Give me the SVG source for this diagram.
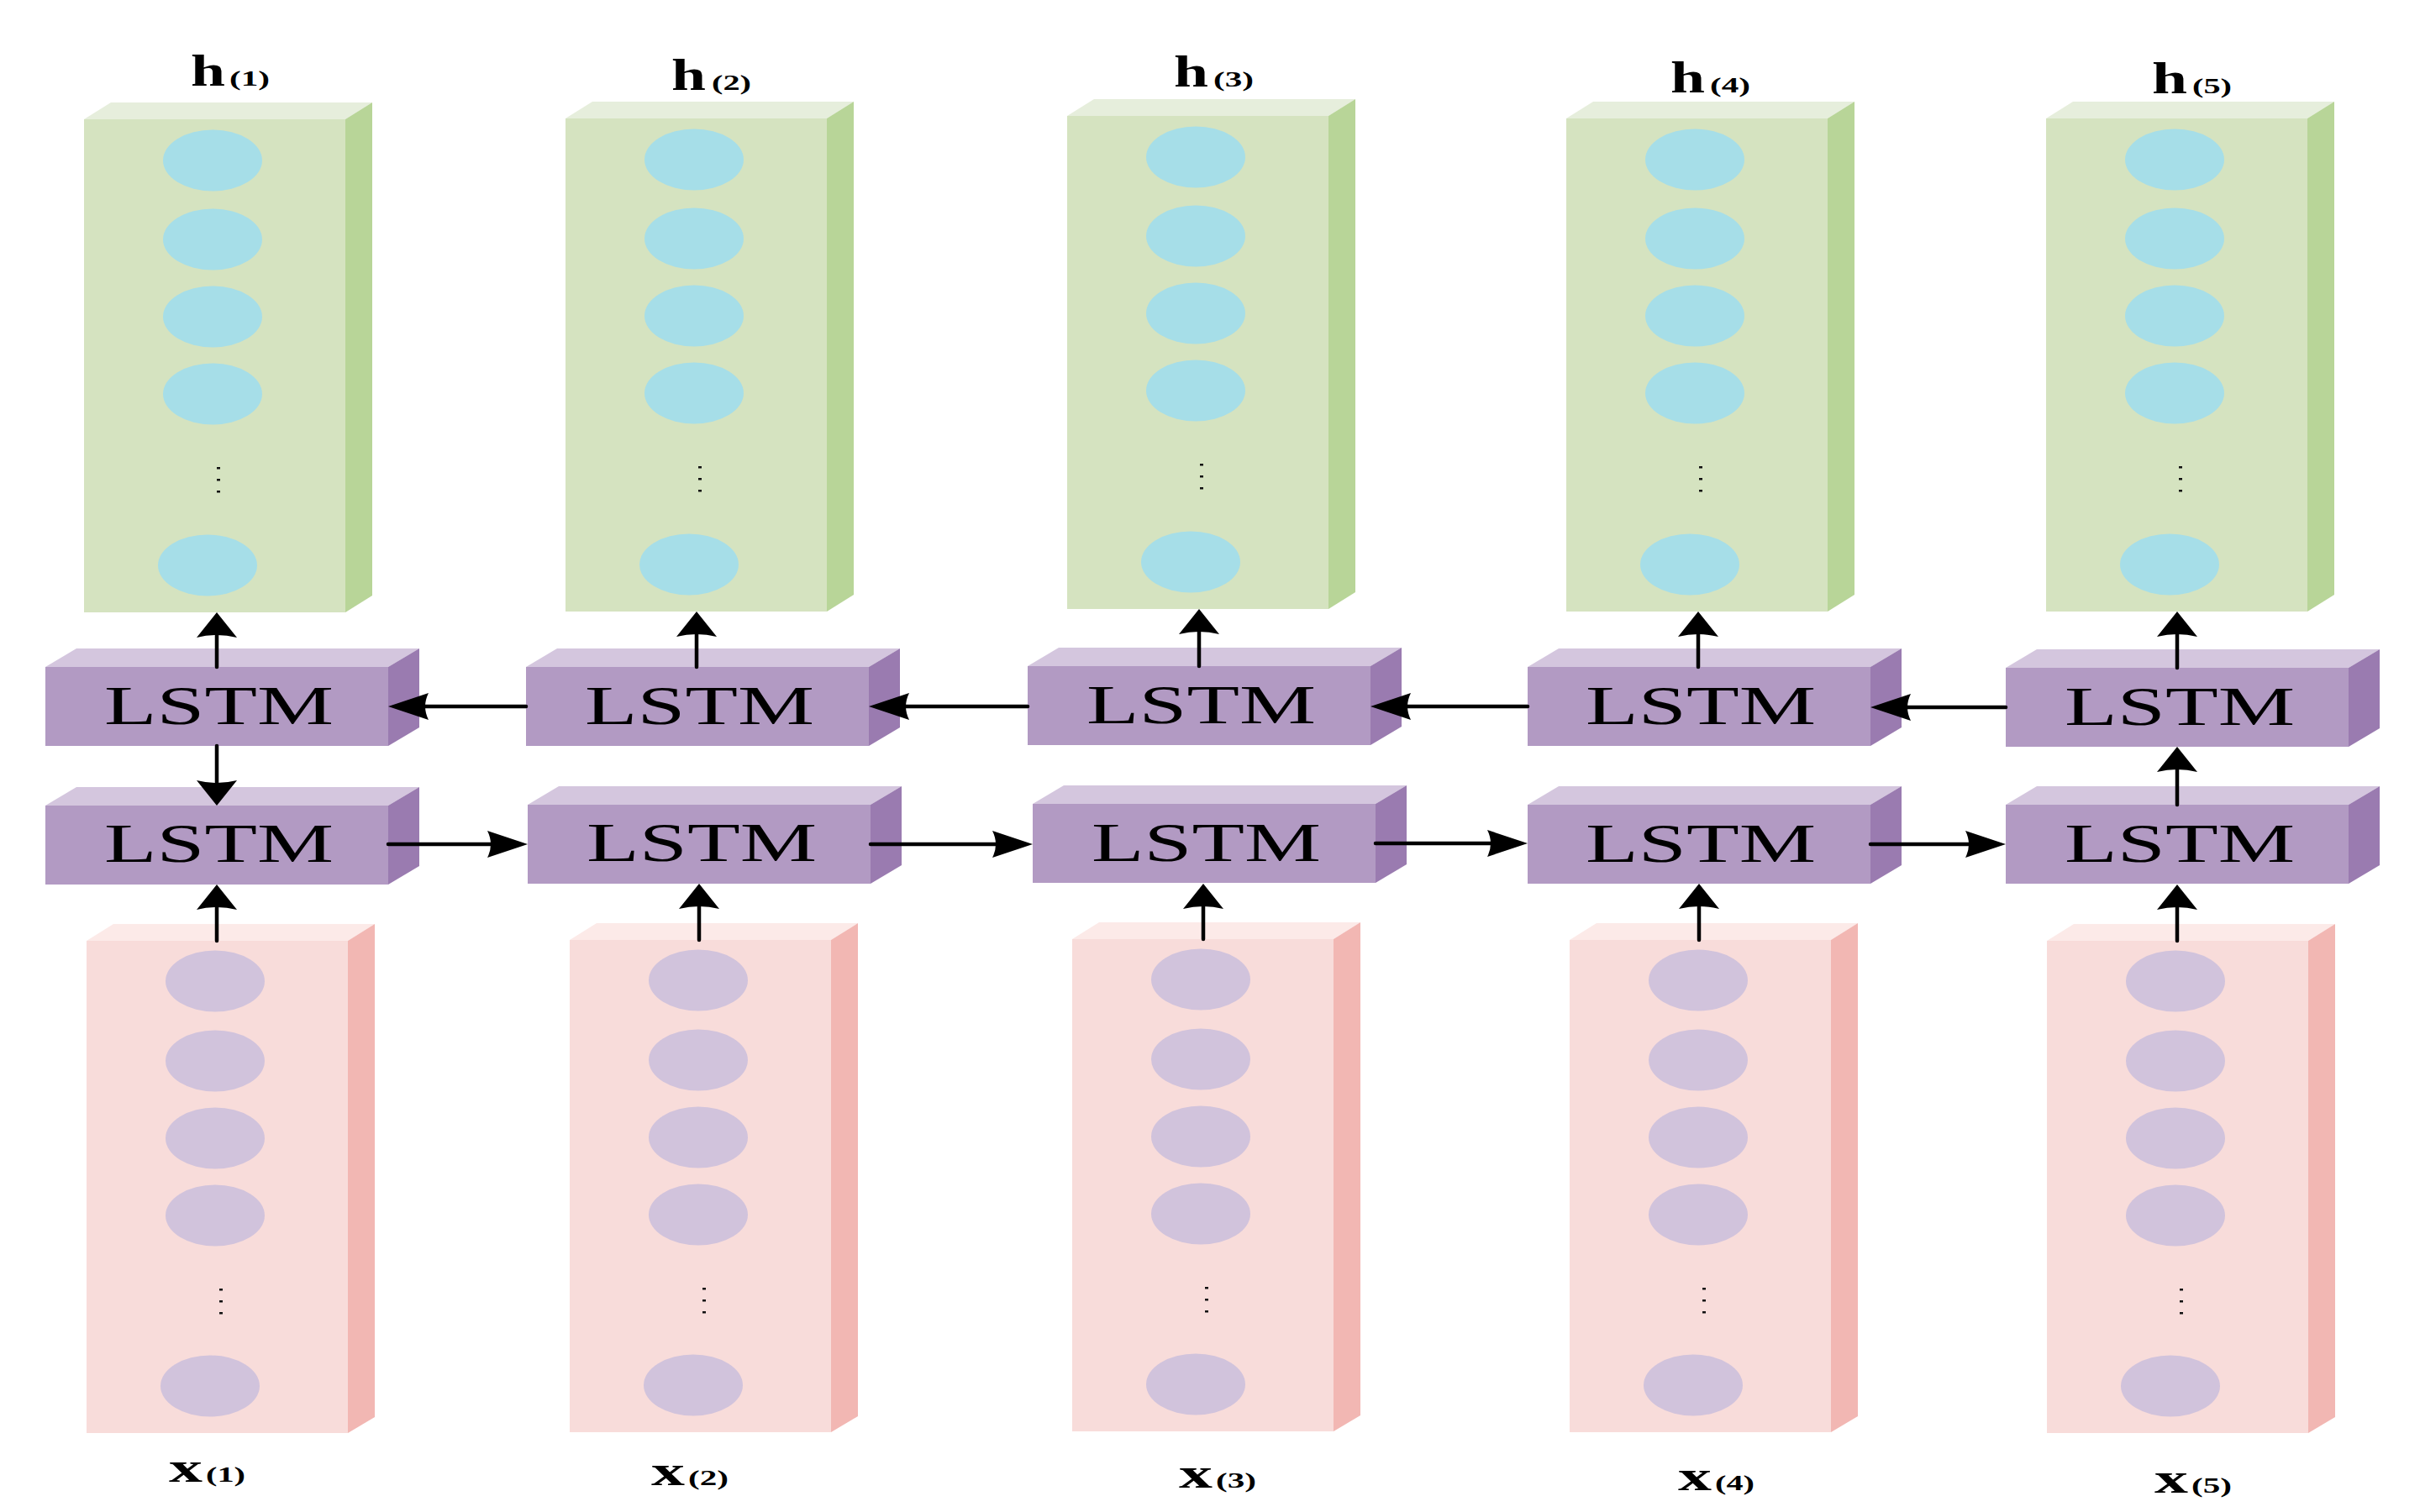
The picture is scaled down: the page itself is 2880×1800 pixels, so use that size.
<svg xmlns="http://www.w3.org/2000/svg" width="2880" height="1800" viewBox="0 0 2880 1800">
<style>
.hf{fill:#D5E3C0}.ht{fill:#E6EEDC}.hs{fill:#B8D598}.he{fill:#A6DEE8}
.xf{fill:#F8DCDA}.xt{fill:#FCEAE8}.xs{fill:#F2B7B3}.xe{fill:#D1C3DC}
.lf{fill:#B29AC3}.lt{fill:#D4C6DE}.ls{fill:#9A7BB0}
.dot{fill:#111}
.lstm{font-family:"Liberation Serif","Times New Roman",serif;font-size:66px;fill:#000}
.lbl{font-family:"Liberation Serif","Times New Roman",serif;font-weight:bold;fill:#000}
.big{font-size:53px}.bx{font-size:50px}.sub{font-size:25px}
.arr{stroke:#000;stroke-width:4.5;fill:none;stroke-linecap:round}
</style>
<defs>
<marker id="ah" markerUnits="userSpaceOnUse" orient="auto" overflow="visible" refX="-36" refY="0" markerWidth="1" markerHeight="1"><path d="M0,0 L-48,-16 Q-40,0 -48,16 Z" fill="#000"/></marker>
<marker id="av" markerUnits="userSpaceOnUse" orient="auto" overflow="visible" refX="-22" refY="0" markerWidth="1" markerHeight="1"><path d="M0,0 L-30,-24 Q-24,0 -30,24 Z" fill="#000"/></marker>
<g id="hcol"><rect class="hf" x="0" y="0" width="311" height="587"/><polygon class="ht" points="0,0 32,-20 343,-20 311,0"/><polygon class="hs" points="311,0 343,-20 343,567 311,587"/><ellipse class="he" cx="153" cy="49" rx="59" ry="36.5"/><ellipse class="he" cx="153" cy="143" rx="59" ry="36.5"/><ellipse class="he" cx="153" cy="235" rx="59" ry="36.5"/><ellipse class="he" cx="153" cy="327" rx="59" ry="36.5"/><rect class="dot" x="158" y="414" width="4" height="2.5"/><rect class="dot" x="158" y="428" width="4" height="2.5"/><rect class="dot" x="158" y="442" width="4" height="2.5"/><ellipse class="he" cx="147" cy="531" rx="59" ry="36.5"/></g>
<g id="xcol"><rect class="xf" x="0" y="0" width="311" height="586"/><polygon class="xt" points="0,0 32,-20 343,-20 311,0"/><polygon class="xs" points="311,0 343,-20 343,567 311,586"/><ellipse class="xe" cx="153" cy="48" rx="59" ry="36.5"/><ellipse class="xe" cx="153" cy="143" rx="59" ry="36.5"/><ellipse class="xe" cx="153" cy="235" rx="59" ry="36.5"/><ellipse class="xe" cx="153" cy="327" rx="59" ry="36.5"/><rect class="dot" x="158" y="414" width="4" height="2.5"/><rect class="dot" x="158" y="428" width="4" height="2.5"/><rect class="dot" x="158" y="442" width="4" height="2.5"/><ellipse class="xe" cx="147" cy="530" rx="59" ry="36.5"/></g>
<g id="lbox"><rect class="lf" x="0" y="0" width="408" height="94"/><polygon class="lt" points="0,0 37,-22 445,-22 408,0"/><polygon class="ls" points="408,0 445,-22 445,72 408,94"/></g>
</defs>

<g id="h1"><use href="#hcol" x="100" y="142"/><text class="lbl" y="102"><tspan class="big" x="227" textLength="41" lengthAdjust="spacingAndGlyphs">h</tspan><tspan class="sub" x="273" textLength="48" lengthAdjust="spacingAndGlyphs">(1)</tspan></text></g>
<g id="h2"><use href="#hcol" x="673" y="141"/><text class="lbl" y="107"><tspan class="big" x="799" textLength="41" lengthAdjust="spacingAndGlyphs">h</tspan><tspan class="sub" x="847" textLength="47" lengthAdjust="spacingAndGlyphs">(2)</tspan></text></g>
<g id="h3"><use href="#hcol" x="1270" y="138"/><text class="lbl" y="103"><tspan class="big" x="1397" textLength="41" lengthAdjust="spacingAndGlyphs">h</tspan><tspan class="sub" x="1444" textLength="48" lengthAdjust="spacingAndGlyphs">(3)</tspan></text></g>
<g id="h4"><use href="#hcol" x="1864" y="141"/><text class="lbl" y="110"><tspan class="big" x="1988" textLength="41" lengthAdjust="spacingAndGlyphs">h</tspan><tspan class="sub" x="2035" textLength="48" lengthAdjust="spacingAndGlyphs">(4)</tspan></text></g>
<g id="h5"><use href="#hcol" x="2435" y="141"/><text class="lbl" y="111"><tspan class="big" x="2561" textLength="42" lengthAdjust="spacingAndGlyphs">h</tspan><tspan class="sub" x="2609" textLength="47" lengthAdjust="spacingAndGlyphs">(5)</tspan></text></g>

<g id="lstm_b1"><use href="#lbox" x="54" y="794"/><text class="lstm" x="124" y="862" textLength="273" lengthAdjust="spacingAndGlyphs">LSTM</text></g>
<g id="lstm_b2"><use href="#lbox" x="626" y="794"/><text class="lstm" x="696" y="862" textLength="273" lengthAdjust="spacingAndGlyphs">LSTM</text></g>
<g id="lstm_b3"><use href="#lbox" x="1223" y="793"/><text class="lstm" x="1293" y="861" textLength="273" lengthAdjust="spacingAndGlyphs">LSTM</text></g>
<g id="lstm_b4"><use href="#lbox" x="1818" y="794"/><text class="lstm" x="1887" y="862" textLength="274" lengthAdjust="spacingAndGlyphs">LSTM</text></g>
<g id="lstm_b5"><use href="#lbox" x="2387" y="795"/><text class="lstm" x="2457" y="863" textLength="274" lengthAdjust="spacingAndGlyphs">LSTM</text></g>

<g id="lstm_f1"><use href="#lbox" x="54" y="959"/><text class="lstm" x="124" y="1026" textLength="273" lengthAdjust="spacingAndGlyphs">LSTM</text></g>
<g id="lstm_f2"><use href="#lbox" x="628" y="958"/><text class="lstm" x="698" y="1025" textLength="274" lengthAdjust="spacingAndGlyphs">LSTM</text></g>
<g id="lstm_f3"><use href="#lbox" x="1229" y="957"/><text class="lstm" x="1299" y="1025" textLength="273" lengthAdjust="spacingAndGlyphs">LSTM</text></g>
<g id="lstm_f4"><use href="#lbox" x="1818" y="958"/><text class="lstm" x="1887" y="1026" textLength="274" lengthAdjust="spacingAndGlyphs">LSTM</text></g>
<g id="lstm_f5"><use href="#lbox" x="2387" y="958"/><text class="lstm" x="2457" y="1026" textLength="274" lengthAdjust="spacingAndGlyphs">LSTM</text></g>

<g id="x1"><use href="#xcol" x="103" y="1120"/><text class="lbl" y="1764"><tspan class="bx" x="201" textLength="40" lengthAdjust="spacingAndGlyphs">x</tspan><tspan class="sub" x="245" textLength="47" lengthAdjust="spacingAndGlyphs">(1)</tspan></text></g>
<g id="x2"><use href="#xcol" x="678" y="1119"/><text class="lbl" y="1768"><tspan class="bx" x="775" textLength="40" lengthAdjust="spacingAndGlyphs">x</tspan><tspan class="sub" x="819" textLength="48" lengthAdjust="spacingAndGlyphs">(2)</tspan></text></g>
<g id="x3"><use href="#xcol" x="1276" y="1118"/><text class="lbl" y="1771"><tspan class="bx" x="1403" textLength="40" lengthAdjust="spacingAndGlyphs">x</tspan><tspan class="sub" x="1447" textLength="48" lengthAdjust="spacingAndGlyphs">(3)</tspan></text></g>
<g id="x4"><use href="#xcol" x="1868" y="1119"/><text class="lbl" y="1774"><tspan class="bx" x="1997" textLength="40" lengthAdjust="spacingAndGlyphs">x</tspan><tspan class="sub" x="2041" textLength="47" lengthAdjust="spacingAndGlyphs">(4)</tspan></text></g>
<g id="x5"><use href="#xcol" x="2436" y="1120"/><text class="lbl" y="1777"><tspan class="bx" x="2564" textLength="40" lengthAdjust="spacingAndGlyphs">x</tspan><tspan class="sub" x="2608" textLength="48" lengthAdjust="spacingAndGlyphs">(5)</tspan></text></g>

<g id="connectors">
<path class="arr" marker-end="url(#av)" d="M258,794 L258,751"/>
<path class="arr" marker-end="url(#av)" d="M829,794 L829,750"/>
<path class="arr" marker-end="url(#av)" d="M1427,793 L1427,747"/>
<path class="arr" marker-end="url(#av)" d="M2021,794 L2021,750"/>
<path class="arr" marker-end="url(#av)" d="M2591,795 L2591,750"/>
<path class="arr" marker-end="url(#ah)" d="M626,841 L498,841"/>
<path class="arr" marker-end="url(#ah)" d="M1223,841 L1070,841"/>
<path class="arr" marker-end="url(#ah)" d="M1818,841 L1667,841"/>
<path class="arr" marker-end="url(#ah)" d="M2387,842 L2262,842"/>
<path class="arr" marker-end="url(#ah)" d="M462,1005 L592,1005"/>
<path class="arr" marker-end="url(#ah)" d="M1036,1005 L1193,1005"/>
<path class="arr" marker-end="url(#ah)" d="M1637,1004 L1782,1004"/>
<path class="arr" marker-end="url(#ah)" d="M2226,1005 L2351,1005"/>
<path class="arr" marker-end="url(#av)" d="M258,888 L258,937"/>
<path class="arr" marker-end="url(#av)" d="M2591,958 L2591,911"/>
<path class="arr" marker-end="url(#av)" d="M258,1120 L258,1075"/>
<path class="arr" marker-end="url(#av)" d="M832,1119 L832,1074"/>
<path class="arr" marker-end="url(#av)" d="M1432,1118 L1432,1074"/>
<path class="arr" marker-end="url(#av)" d="M2022,1119 L2022,1074"/>
<path class="arr" marker-end="url(#av)" d="M2591,1120 L2591,1075"/>
</g>
</svg>
